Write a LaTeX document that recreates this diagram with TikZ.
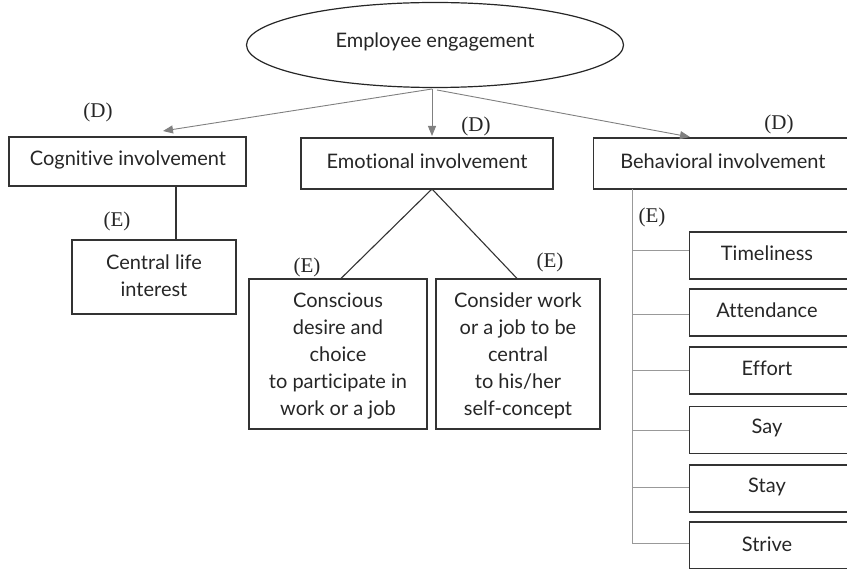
\documentclass[tikz,border=0pt]{standalone}
\usepackage{fontspec}
\setmainfont{Lato}[Ligatures={NoCommon}]
\newfontfamily\lblfont{Liberation Serif}
\usetikzlibrary{shapes.geometric,arrows.meta}
\begin{document}
\begin{tikzpicture}[x=1pt,y=-1pt,
  txt/.style={font=\fontsize{20}{27}\selectfont,text=black!85},
  box/.style={draw=black!80,line width=1.1pt,inner sep=0pt,align=center,txt},
  lbl/.style={font=\lblfont\fontsize{21}{24}\selectfont,text=black!85,inner sep=0pt},
  garrow/.style={draw=black!50,line width=0.9pt,-{Triangle[length=10pt,width=8pt]}},
  bline/.style={draw=black!80,line width=1.1pt},
  gline/.style={draw=black!40,line width=0.9pt}]
\useasboundingbox (0,0) rectangle (847,569);
\clip (0,0) rectangle (847,569);
% ellipse
\node[draw=black!85,line width=1.2pt,ellipse,minimum width=377pt,minimum height=85pt,inner sep=0pt,txt] (ee) at (435,45) {};
\node[txt] (eetxt) at (435,42) {Employee engagement};
% level 1
\node[box,minimum width=237pt,minimum height=49pt] (cog) at (127.5,161.5) {};
\node[txt] (cogtxt) at (128,160) {Cognitive involvement};
\node[box,minimum width=252pt,minimum height=51pt] (emo) at (427,163.5) {};
\node[txt] (emotxt) at (427,161) {Emotional involvement};
\node[box,minimum width=260pt,minimum height=51pt,anchor=west] (beh) at (593,163.5) {};
\node[txt] (behtxt) at (723,161) {Behavioral involvement};
% labels D
\node[lbl] (d1) at (98,112) {(D)};
\node[lbl] (d2) at (476,126) {(D)};
\node[lbl] (d3) at (779,124) {(D)};
% arrows
\coordinate (o1) at (432,89);
\coordinate (o3) at (437,90);
\draw[garrow] (o1) -- (163,131);
\draw[garrow] (o1) -- (432,136);
\draw[garrow] (o3) -- (690,137);
% cognitive child
\node[box,minimum width=164pt,minimum height=74pt] (cli) at (154,277) {};
\node[txt,align=center] (clitxt) at (154,276) {Central life\\interest};
\draw[bline] (cog.south -| 176,0) -- (cli.north -| 176,0);
\node[lbl] (e1) at (117,221) {(E)};
% emotional children
\node[box,minimum width=178pt,minimum height=150pt] (con) at (338,354) {};
\node[txt,align=center] (contxt) at (338,356) {Conscious\\desire and\\choice\\to participate in\\work or a job};
\node[box,minimum width=164pt,minimum height=150pt] (csd) at (518,354) {};
\node[txt,align=center] (csdtxt) at (518,356) {Consider work\\or a job to be\\central\\to his/her\\self-concept};
\coordinate (ep) at (432,189);
\draw[bline] (ep) -- (con.north -| 341,0);
\draw[bline] (ep) -- (csd.north -| 517,0);
\node[lbl] (e2) at (307,267) {(E)};
\node[lbl] (e3) at (550,262) {(E)};
% behavioral children
\node[lbl] (e4) at (652,217) {(E)};
\coordinate (bt) at (632,189);
\coordinate (bb) at (632,543);
\draw[gline] (bt) -- (bb) -- (689,543);
\foreach \n/\t/\yc/\yl in {t1/Timeliness/255.5/250, t2/Attendance/312.5/314, t3/Effort/370.5/370, t4/Say/430/430, t5/Stay/488.5/487}{
  \node[box,minimum width=170pt,minimum height=47pt,anchor=west] (\n) at (689,\yc) {};
  \node[txt] at (767,\yc-2) {\t};
  \draw[gline] (632,\yl) -- (\n.west |- 0,\yl);
}
\node[box,minimum width=170pt,minimum height=47pt,anchor=west] (t6) at (689,545.5) {};
\node[txt] at (767,544) {Strive};
\end{tikzpicture}
\end{document}
